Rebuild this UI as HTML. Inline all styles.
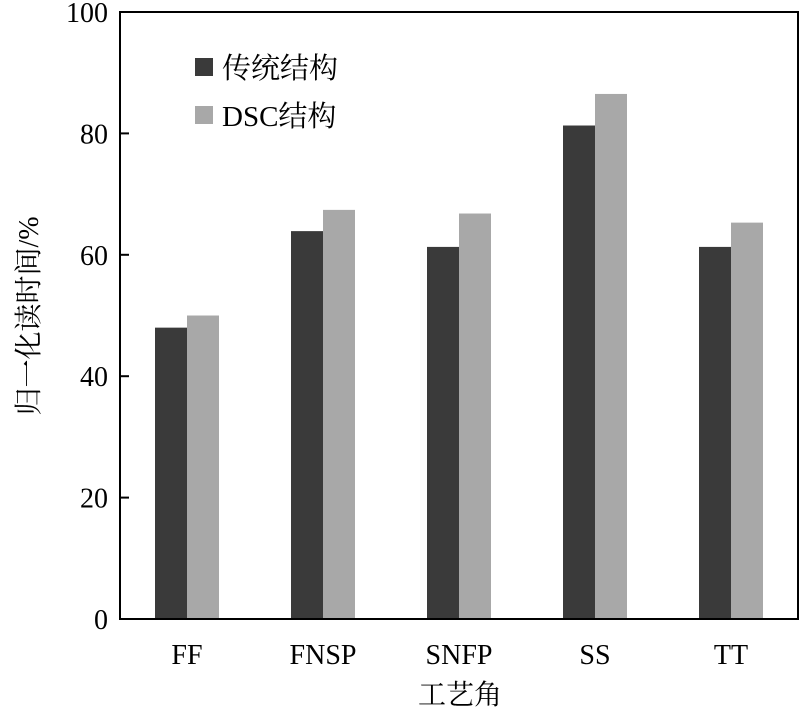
<!DOCTYPE html>
<html><head><meta charset="utf-8"><style>
body{margin:0;background:#fff;width:800px;height:711px;overflow:hidden}
text{font-family:"Liberation Serif","Noto Serif CJK SC",serif;fill:#000}
</style></head><body>
<svg id="chart" width="800" height="711"></svg>
<script>
const categories=["FF","FNSP","SNFP","SS","TT"];
const seriesA=[48,63.9,61.3,81.3,61.3];
const seriesB=[50,67.4,66.8,86.5,65.3];
const yTicks=[0,20,40,60,80,100];
const NS="http://www.w3.org/2000/svg";
const svg=document.getElementById("chart");
const L=120,R=798,T=12,B=619;
const y=v=>B-(B-T)*v/100;
const xc=i=>187+136*i;
function mk(tag,attrs,txt){const e=document.createElementNS(NS,tag);for(const k in attrs)e.setAttribute(k,attrs[k]);if(txt!=null)e.textContent=txt;svg.appendChild(e);return e;}
categories.forEach((c,i)=>{
  const a=mk("rect",{x:xc(i)-32,y:y(seriesA[i]),width:32,height:B-y(seriesA[i]),fill:"#3a3a3a"});
  
  
  const b=mk("rect",{x:xc(i),y:y(seriesB[i]),width:32,height:B-y(seriesB[i]),fill:"#a8a8a8"});
  
  
  const t=mk("text",{x:xc(i),y:664,"text-anchor":"middle","font-size":28},c);
  
  
});
yTicks.forEach(v=>{
  const l=mk("line",{x1:L,x2:L+9,y1:y(v),y2:y(v),stroke:"#000","stroke-width":2});
  
  
  const t=mk("text",{x:L-12,y:y(v)+10,"text-anchor":"end","font-size":28},v);
  
  
});
const f=mk("rect",{x:L,y:T,width:R-L,height:B-T,fill:"none",stroke:"#000","stroke-width":2});


</script>
<svg width="800" height="711" style="position:absolute;left:0;top:0">
<g>
<rect x="195" y="58" width="18" height="18" fill="#3a3a3a"/>
<text x="222" y="78" font-size="29">传统结构</text>
<rect x="195" y="106" width="18" height="18" fill="#a8a8a8"/>
<text x="222" y="126" font-size="29">DSC结构</text>
</g>
<text x="460" y="704" font-size="28" text-anchor="middle">工艺角</text>
<text transform="translate(38,316) rotate(-90)" font-size="28" text-anchor="middle">归一化读时间/%</text>
</svg>
</body></html>
